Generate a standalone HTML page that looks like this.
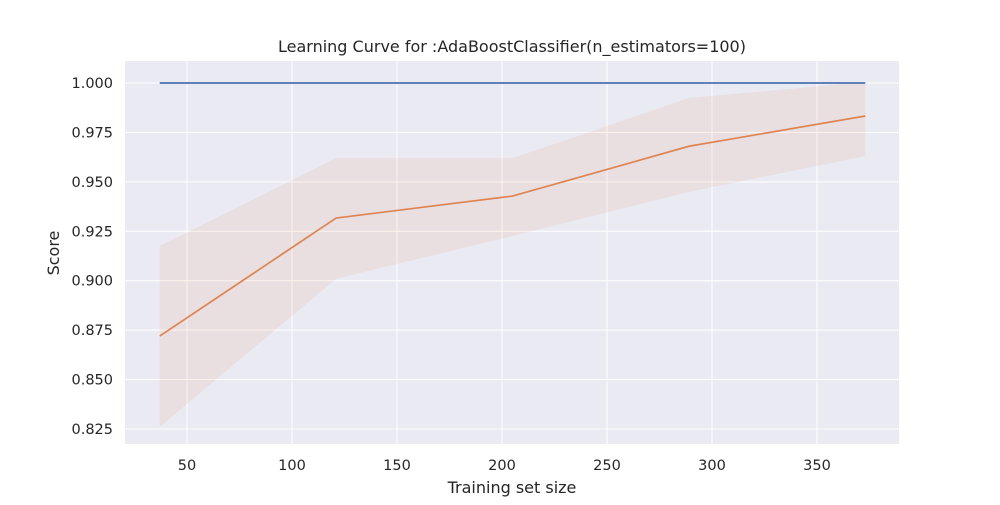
<!DOCTYPE html>
<html><head><meta charset="utf-8"><style>
html,body{margin:0;padding:0;background:#fff;}
svg text{font-family:"DejaVu Sans","Liberation Sans",sans-serif;fill:#262626;}
</style></head><body>
<svg width="1000" height="500">
<g id="g"></g>
</svg>
<script>
const trainSizes=[37,121,205,289,373];
const trainMean=[1,1,1,1,1];
const testMean=[0.872,0.9317,0.9428,0.968,0.9833];
const testUpper=[0.9176,0.962,0.962,0.9924,1.0005];
const testLower=[0.826,0.901,0.9226,0.9449,0.963];
const xTicks=[50,100,150,200,250,300,350];
const yTicks=[0.825,0.850,0.875,0.900,0.925,0.950,0.975,1.000];
const L=125,R=899,T=61,B=444;
const xs=v=>187+(v-50)*2.1;
const ys=v=>83+(1-v)*1977;
const g=document.getElementById('g');
const NS='http://www.w3.org/2000/svg';
function mk(t,a,p){const e=document.createElementNS(NS,t);for(const k in a)e.setAttribute(k,a[k]);(p||g).appendChild(e);return e;}
const bg=mk('rect',{x:L,y:T,width:R-L,height:B-T,fill:'#eaeaf2'});


xTicks.forEach(v=>{const x=xs(v);
const gl=mk('line',{x1:x,x2:x,y1:T,y2:B,stroke:'#fff','stroke-width':1});


const t=mk('text',{x:x,y:B+26,'text-anchor':'middle','font-size':14.5});t.textContent=v;

});
yTicks.forEach(v=>{const y=ys(v);
const gl=mk('line',{x1:L,x2:R,y1:y,y2:y,stroke:'#fff','stroke-width':1});


const t=mk('text',{x:L-12,y:y+5,'text-anchor':'end','font-size':14.5});t.textContent=v.toFixed(3);

});
let pts=trainSizes.map((s,i)=>xs(s)+','+ys(testUpper[i]));
pts=pts.concat(trainSizes.map((s,i)=>xs(s)+','+ys(testLower[i])).reverse());
const band=mk('polygon',{points:pts.join(' '),fill:'#dd8452','fill-opacity':0.1});


const tl=mk('polyline',{points:trainSizes.map((s,i)=>xs(s)+','+ys(trainMean[i])).join(' '),fill:'none',stroke:'#4c72b0','stroke-width':1.7});


const cl=mk('polyline',{points:trainSizes.map((s,i)=>xs(s)+','+ys(testMean[i])).join(' '),fill:'none',stroke:'#dd8452','stroke-width':1.7});


const ti=mk('text',{x:512,y:52,'text-anchor':'middle','font-size':16});ti.textContent='Learning Curve for :AdaBoostClassifier(n_estimators=100)';


const xl=mk('text',{x:512,y:493,'text-anchor':'middle','font-size':16});xl.textContent='Training set size';


const yl=mk('text',{x:59,y:253,'text-anchor':'middle','font-size':16,transform:'rotate(-90 59 253)'});yl.textContent='Score';


</script>
</body></html>
